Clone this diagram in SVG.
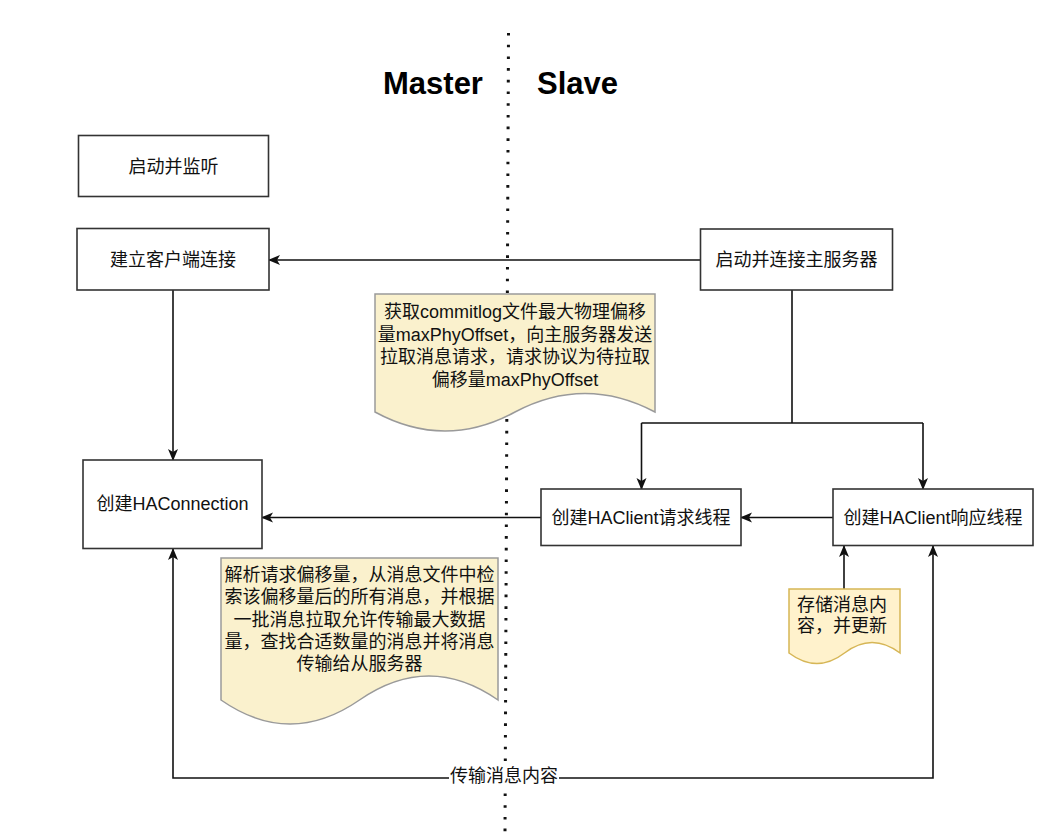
<svg xmlns="http://www.w3.org/2000/svg" width="1062" height="832" viewBox="0 0 1062 832">
<style>
.box{fill:#ffffff;stroke:#333333;stroke-width:1.6}
.doc{fill:#faf1cd;stroke:#9a9a9a;stroke-width:1.5}
.note{fill:#fff2cc;stroke:#d6b656;stroke-width:1.5}
.t{font-family:"Liberation Sans","Noto Sans CJK SC",sans-serif;font-size:18px;fill:#111111;text-anchor:middle}
.h{font-family:"Liberation Sans",sans-serif;font-size:31px;font-weight:bold;fill:#000000}
.c{fill:none;stroke:#111111;stroke-width:1.6}
</style>
<defs>
<marker id="arr" viewBox="0 0 12 12" refX="11" refY="6" markerWidth="12" markerHeight="12" markerUnits="userSpaceOnUse" orient="auto-start-reverse">
<path d="M0,1 L12,6 L0,11 L3,6 Z" fill="#111111"/>
</marker>
</defs>
<rect width="1062" height="832" fill="#ffffff"/>
<line x1="508.5" y1="33" x2="505" y2="832" stroke="#111111" stroke-width="3" stroke-dasharray="2.6 9.1"/>
<text class="h" x="383" y="94">Master</text>
<text class="h" x="537" y="94">Slave</text>
<g id="connectors">
<path class="c" d="M700.5,260 L269,260" marker-end="url(#arr)"/>
<path class="c" d="M173,290 L173,460" marker-end="url(#arr)"/>
<path class="c" d="M792,290 L792,423 M641.5,423 L923,423"/>
<path class="c" d="M641.5,423 L641.5,489" marker-end="url(#arr)"/>
<path class="c" d="M923,423 L923,489" marker-end="url(#arr)"/>
<path class="c" d="M833,517.5 L741,517.5" marker-end="url(#arr)"/>
<path class="c" d="M541,517.5 L262,517.5" marker-end="url(#arr)"/>
<path class="c" d="M844,589 L844,546" marker-end="url(#arr)"/>
<path class="c" d="M173,549 L173,778 L933,778 L933,546" marker-start="url(#arr)" marker-end="url(#arr)"/>
<rect x="449" y="766" width="110" height="20" fill="#ffffff"/>
<text class="t" x="504" y="781.5">传输消息内容</text>
</g>
<g id="n-listen">
<rect class="box" x="78.5" y="135.5" width="190" height="61"/>
<text class="t" x="173.5" y="172.5">启动并监听</text>
</g>
<g id="n-client-conn">
<rect class="box" x="77" y="228.5" width="192" height="61.5"/>
<text class="t" x="173" y="265.5">建立客户端连接</text>
</g>
<g id="n-haconnection">
<rect class="box" x="83" y="460" width="179" height="88.5"/>
<text class="t" x="172.5" y="510">创建HAConnection</text>
</g>
<g id="n-connect-master">
<rect class="box" x="700.5" y="229" width="192" height="61"/>
<text class="t" x="796.5" y="265.5">启动并连接主服务器</text>
</g>
<g id="n-req-thread">
<rect class="box" x="541" y="489" width="200" height="56.5"/>
<text class="t" x="641" y="523.5">创建HAClient请求线程</text>
</g>
<g id="n-resp-thread">
<rect class="box" x="833" y="489" width="200" height="56.5"/>
<text class="t" x="933" y="523.5">创建HAClient响应线程</text>
</g>
<g id="doc-request">
<path class="doc" d="M375,294 L655,294 L655,412 Q585,375 515,412 Q445,450 375,412 Z"/>
<text class="t" x="515" y="318">获取commitlog文件最大物理偏移</text>
<text class="t" x="515" y="340.5">量maxPhyOffset，向主服务器发送</text>
<text class="t" x="515" y="363">拉取消息请求，请求协议为待拉取</text>
<text class="t" x="515" y="385.5">偏移量maxPhyOffset</text>
</g>
<g id="doc-parse">
<path class="doc" d="M221,558 L498,558 L498,700 Q429,652 359.5,700 Q290,748 221,700 Z"/>
<text class="t" x="359.5" y="581">解析请求偏移量，从消息文件中检</text>
<text class="t" x="359.5" y="603">索该偏移量后的所有消息，并根据</text>
<text class="t" x="359.5" y="625.5">一批消息拉取允许传输最大数据</text>
<text class="t" x="359.5" y="648">量，查找合适数量的消息并将消息</text>
<text class="t" x="359.5" y="670">传输给从服务器</text>
</g>
<g id="doc-store">
<path class="note" d="M789,589 L900,589 L900,653 Q872,632 844.5,653 Q817,674 789,653 Z"/>
<text class="t" x="842" y="611">存储消息内</text>
<text class="t" x="842" y="632">容，并更新</text>
</g>
</svg>
